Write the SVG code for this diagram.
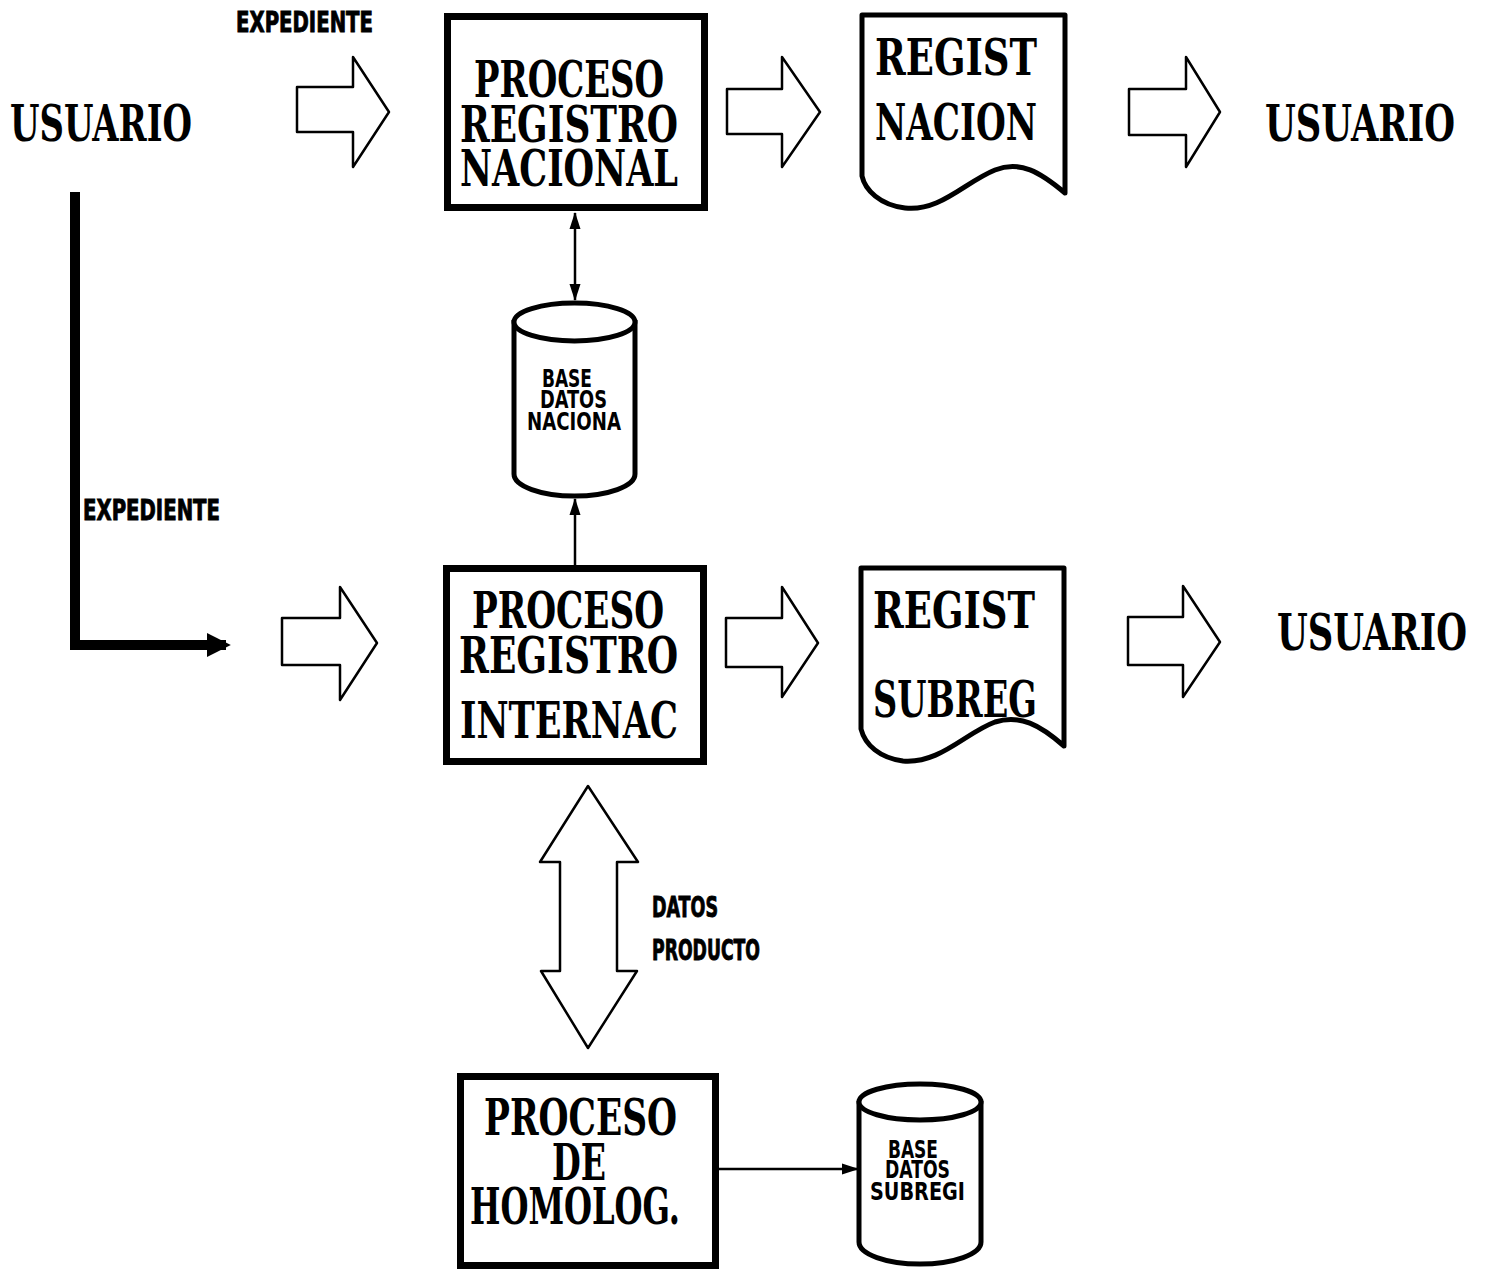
<svg xmlns="http://www.w3.org/2000/svg" width="1491" height="1270" viewBox="0 0 1491 1270">
  <style>
    .bg { fill: #ffffff; }
    .box { fill: #ffffff; stroke: #000; stroke-width: 7; }
    .doc { fill: #ffffff; stroke: #000; stroke-width: 5; stroke-linejoin: round; }
    .db { fill: #ffffff; stroke: #000; stroke-width: 5; }
    .hollow { fill: #ffffff; stroke: #000; stroke-width: 2.5; stroke-linejoin: round; }
    .thin { fill: none; stroke: #000; stroke-width: 2.5; }
    .heavy { fill: none; stroke: #000; stroke-width: 10; }
    .big { font-family: "DejaVu Serif", "Liberation Serif", serif; font-weight: bold; font-stretch: condensed; font-size: 40px; fill: #000; }
    .tag { font-family: "DejaVu Sans", "Liberation Sans", sans-serif; font-weight: bold; font-stretch: condensed; font-size: 22px; fill: #000; stroke: #000; stroke-width: 0.7; }
    .dbt { font-family: "DejaVu Sans", "Liberation Sans", sans-serif; font-weight: bold; font-stretch: condensed; font-size: 19px; fill: #000; }
  </style>
  <defs>
    <marker id="tip" viewBox="0 0 17 13" refX="16" refY="6.5" markerWidth="17" markerHeight="13" markerUnits="userSpaceOnUse" orient="auto-start-reverse">
      <path d="M0,1 L17,6.5 L0,12 Z" fill="#000"/>
    </marker>
    <marker id="tipBig" viewBox="0 0 10 10" refX="8" refY="5" markerWidth="2.4" markerHeight="2.5" orient="auto">
      <path d="M0,0 L10,5 L0,10 Z" fill="#000"/>
    </marker>
  </defs>

  <rect class="bg" x="0" y="0" width="1491" height="1270"/>

  <!-- connectors -->
  <g id="connectors">
    <!-- block arrows between stages -->
    <polygon class="hollow" points="297,87 353,87 353,57 389,112 353,167 353,132 297,132"/>
    <polygon class="hollow" points="727,89 782,89 782,57 820,112 782,167 782,134 727,134"/>
    <polygon class="hollow" points="1129,89 1186,89 1186,57 1220,112 1186,167 1186,135 1129,135"/>
    <polygon class="hollow" points="282,618 340,618 340,587 377,643 340,700 340,665 282,665"/>
    <polygon class="hollow" points="726,618 782,618 782,587 818,643 782,697 782,667 726,667"/>
    <polygon class="hollow" points="1128,617 1183,617 1183,586 1220,642 1183,697 1183,665 1128,665"/>
    <!-- two-way block arrow between INTERNAC and HOMOLOG -->
    <polygon class="hollow" points="588,786 638,862 617,862 617,971 637,971 588,1048 541,971 560,971 560,862 540,862"/>
    <!-- L-shaped feed from the left user -->
    <path class="heavy" d="M75,192 V645 H226" marker-end="url(#tipBig)"/>
    <!-- database links -->
    <line class="thin" x1="575" y1="213" x2="575" y2="300" marker-start="url(#tip)" marker-end="url(#tip)"/>
    <line class="thin" x1="575" y1="566" x2="575" y2="499" marker-end="url(#tip)"/>
    <line class="thin" x1="718" y1="1169" x2="858" y2="1169" marker-end="url(#tip)"/>
  </g>

  <!-- free labels -->
  <g id="usuario-in">
    <text class="big" transform="translate(10,141) scale(1,1.28)" textLength="182" lengthAdjust="spacingAndGlyphs">USUARIO</text>
  </g>
  <g id="label-expediente-top">
    <text class="tag" transform="translate(236,32) scale(1,1.25)" textLength="137" lengthAdjust="spacingAndGlyphs">EXPEDIENTE</text>
  </g>
  <g id="label-expediente-left">
    <text class="tag" transform="translate(83,520) scale(1,1.25)" textLength="137" lengthAdjust="spacingAndGlyphs">EXPEDIENTE</text>
  </g>
  <g id="label-datos-producto">
    <text class="tag" transform="translate(652,917) scale(1,1.25)" textLength="66" lengthAdjust="spacingAndGlyphs">DATOS</text>
    <text class="tag" transform="translate(652,960) scale(1,1.25)" textLength="108" lengthAdjust="spacingAndGlyphs">PRODUCTO</text>
  </g>

  <!-- process: national register -->
  <g id="proc-nacional">
    <rect class="box" x="447.5" y="16.5" width="257" height="191"/>
    <text class="big" transform="translate(474,97) scale(1,1.28)" textLength="190" lengthAdjust="spacingAndGlyphs">PROCESO</text>
    <text class="big" transform="translate(460,142) scale(1,1.28)" textLength="218" lengthAdjust="spacingAndGlyphs">REGISTRO</text>
    <text class="big" transform="translate(460,186) scale(1,1.28)" textLength="218" lengthAdjust="spacingAndGlyphs">NACIONAL</text>
  </g>

  <!-- document: national register output -->
  <g id="doc-nacion">
    <path class="doc" d="M862,15 H1065 V193 C1040,172 1020,160 995,170 C965,182 940,212 905,208 C880,205 865,190 862,176 Z"/>
    <text class="big" transform="translate(875,75) scale(1,1.28)" textLength="162" lengthAdjust="spacingAndGlyphs">REGIST</text>
    <text class="big" transform="translate(875,140) scale(1,1.28)" textLength="162" lengthAdjust="spacingAndGlyphs">NACION</text>
  </g>

  <g id="usuario-out-1">
    <text class="big" transform="translate(1265,141) scale(1,1.28)" textLength="190" lengthAdjust="spacingAndGlyphs">USUARIO</text>
  </g>

  <!-- national database -->
  <g id="db-nacional">
    <path class="db" d="M514,320 V474 A60.5,22 0 0 0 635,474 V320"/>
    <ellipse class="db" cx="574.5" cy="322" rx="60.5" ry="19"/>
    <text class="dbt" transform="translate(542,387) scale(1,1.32)" textLength="50" lengthAdjust="spacingAndGlyphs">BASE</text>
    <text class="dbt" transform="translate(540,408) scale(1,1.32)" textLength="67" lengthAdjust="spacingAndGlyphs">DATOS</text>
    <text class="dbt" transform="translate(527,430) scale(1,1.32)" textLength="94" lengthAdjust="spacingAndGlyphs">NACIONA</text>
  </g>

  <!-- process: international register -->
  <g id="proc-internac">
    <rect class="box" x="446.5" y="568.5" width="257" height="193"/>
    <text class="big" transform="translate(472,628) scale(1,1.28)" textLength="192" lengthAdjust="spacingAndGlyphs">PROCESO</text>
    <text class="big" transform="translate(459,673) scale(1,1.28)" textLength="219" lengthAdjust="spacingAndGlyphs">REGISTRO</text>
    <text class="big" transform="translate(460,738) scale(1,1.28)" textLength="218" lengthAdjust="spacingAndGlyphs">INTERNAC</text>
  </g>

  <!-- document: sub-register output -->
  <g id="doc-subreg">
    <path class="doc" d="M861,568 H1064 V746 C1040,725 1020,714 995,722 C965,733 940,764 903,761 C880,758 865,745 861,729 Z"/>
    <text class="big" transform="translate(873,628) scale(1,1.28)" textLength="162" lengthAdjust="spacingAndGlyphs">REGIST</text>
    <text class="big" transform="translate(873,717) scale(1,1.28)" textLength="164" lengthAdjust="spacingAndGlyphs">SUBREG</text>
  </g>

  <g id="usuario-out-2">
    <text class="big" transform="translate(1277,650) scale(1,1.28)" textLength="190" lengthAdjust="spacingAndGlyphs">USUARIO</text>
  </g>

  <!-- process: homologation -->
  <g id="proc-homolog">
    <rect class="box" x="460.5" y="1076.5" width="255" height="189"/>
    <text class="big" transform="translate(484,1135) scale(1,1.28)" textLength="193" lengthAdjust="spacingAndGlyphs">PROCESO</text>
    <text class="big" transform="translate(552,1180) scale(1,1.28)" textLength="54" lengthAdjust="spacingAndGlyphs">DE</text>
    <text class="big" transform="translate(470,1224) scale(1,1.28)" textLength="210" lengthAdjust="spacingAndGlyphs">HOMOLOG.</text>
  </g>

  <!-- sub-register database -->
  <g id="db-subregi">
    <path class="db" d="M859,1101 V1242 A61,22 0 0 0 981,1242 V1101"/>
    <ellipse class="db" cx="920" cy="1102" rx="61" ry="18"/>
    <text class="dbt" transform="translate(888,1158) scale(1,1.32)" textLength="50" lengthAdjust="spacingAndGlyphs">BASE</text>
    <text class="dbt" transform="translate(885,1178) scale(1,1.32)" textLength="65" lengthAdjust="spacingAndGlyphs">DATOS</text>
    <text class="dbt" transform="translate(870,1200) scale(1,1.32)" textLength="95" lengthAdjust="spacingAndGlyphs">SUBREGI</text>
  </g>
</svg>
